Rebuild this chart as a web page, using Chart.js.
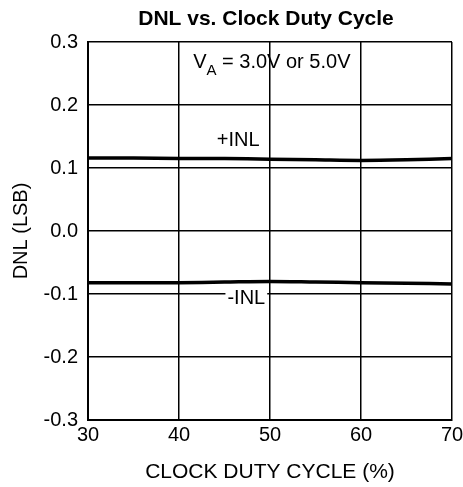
<!DOCTYPE html>
<html><head><meta charset="utf-8">
<script src="https://cdn.jsdelivr.net/npm/chart.js@4/dist/chart.umd.min.js"></script>
<style>html,body{margin:0;padding:0;background:#fff}canvas{display:block}</style>
</head><body>
<canvas id="c" width="463" height="487"></canvas>
<script>
const dutyCycle = [30, 35, 40, 45, 50, 55, 60, 65, 70];
const posINL = [0.116, 0.116, 0.115, 0.115, 0.114, 0.113, 0.112, 0.113, 0.115];
const negINL = [-0.082, -0.082, -0.082, -0.081, -0.080, -0.081, -0.082, -0.083, -0.084];
const titleText = 'DNL vs. Clock Duty Cycle';
const xTitle = 'CLOCK DUTY CYCLE (%)';
const yTitle = 'DNL (LSB)';
const labels = [
  {text: '+INL', x: 46.5, y: 0.144, bg: false},
  {text: '-INL', x: 47.4, y: -0.107, bg: true}
];
const FONT = '"Liberation Sans", Arial, sans-serif';

const annot = {
  id: 'annot',
  afterDraw(chart) {
    const ctx = chart.ctx, xs = chart.scales.x, ys = chart.scales.y, ca = chart.chartArea;
    ctx.save();
    ctx.fillStyle = '#000';
    ctx.textBaseline = 'middle';
    ctx.textAlign = 'center';
    ctx.font = 'bold 21px ' + FONT;
    ctx.fillText(titleText, (ca.left + ca.right) / 2 - 4, 19);
    ctx.font = '20px ' + FONT;
    labels.forEach(l => {
      const px = xs.getPixelForValue(l.x), py = ys.getPixelForValue(l.y);
      if (l.bg) {
        const w = ctx.measureText(l.text).width;
        ctx.fillStyle = '#fff';
        ctx.fillRect(px - w / 2 - 2, py - 8, w + 4, 16);
        ctx.fillStyle = '#000';
      }
      ctx.fillText(l.text, px, py);
    });
    // V_A annotation
    const ax = xs.getPixelForValue(50.2), ay = ys.getPixelForValue(0.268);
    const p1 = 'V', sub = 'A', p2 = ' = 3.0V or 5.0V';
    ctx.font = '20px ' + FONT;
    const w1 = ctx.measureText(p1).width, w2 = ctx.measureText(p2).width;
    ctx.font = '15px ' + FONT;
    const ws = ctx.measureText(sub).width;
    let sx = ax - (w1 + ws + w2) / 2;
    ctx.textAlign = 'left';
    ctx.font = '20px ' + FONT;
    ctx.fillText(p1, sx, ay);
    ctx.font = '15px ' + FONT;
    ctx.fillText(sub, sx + w1, ay + 9);
    ctx.font = '20px ' + FONT;
    ctx.fillText(p2, sx + w1 + ws, ay);
    ctx.restore();
  }
};

new Chart(document.getElementById('c'), {
  type: 'line',
  data: {
    datasets: [
      {label: '+INL', data: dutyCycle.map((x, i) => ({x, y: posINL[i]})), borderColor: '#000', borderWidth: 3.5, pointRadius: 0, tension: 0.3},
      {label: '-INL', data: dutyCycle.map((x, i) => ({x, y: negINL[i]})), borderColor: '#000', borderWidth: 3.5, pointRadius: 0, tension: 0.3}
    ]
  },
  options: {
    responsive: false, animation: false,
    layout: {padding: {left: 0, right: 11, top: 42, bottom: 0}},
    plugins: {legend: {display: false}, tooltip: {enabled: false}, title: {display: false}},
    scales: {
      x: {
        type: 'linear', min: 30, max: 70,
        ticks: {stepSize: 10, color: '#000', font: {size: 20, family: FONT}, padding: 3, maxRotation: 0},
        grid: {color: '#000', lineWidth: 1.5, drawTicks: false},
        border: {color: '#000', width: 2},
        title: {display: true, text: xTitle, color: '#000', font: {size: 21, family: FONT}, padding: {top: 2, bottom: 2}},
        afterFit(s) { s.height = 67; s.paddingLeft = 0; s.paddingRight = 0; }
      },
      y: {
        min: -0.3, max: 0.3,
        ticks: {stepSize: 0.1, color: '#000', font: {size: 20, family: FONT}, padding: 10, callback: v => v.toFixed(1)},
        grid: {color: '#000', lineWidth: 1.5, drawTicks: false},
        border: {color: '#000', width: 2},
        title: {display: true, text: yTitle, color: '#000', font: {size: 20, family: FONT}, padding: {top: 9, bottom: 0}},
        afterFit(s) { s.width = 88; s.paddingTop = 0; s.paddingBottom = 0; }
      }
    }
  },
  plugins: [annot]
});
</script>
</body></html>
